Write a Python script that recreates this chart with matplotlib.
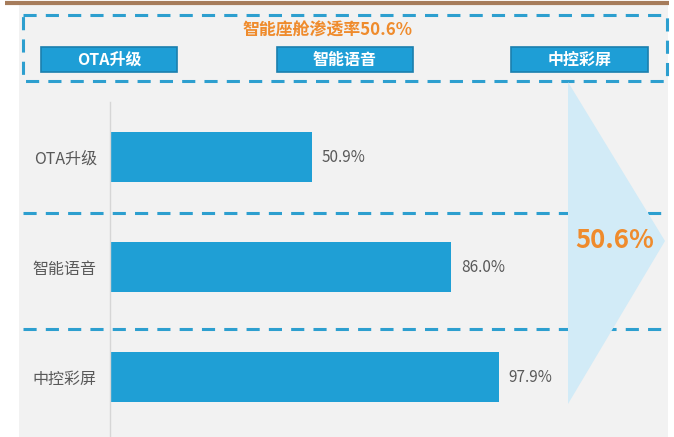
import matplotlib
matplotlib.use('Agg')
import matplotlib.pyplot as plt
from matplotlib.patches import Rectangle, Polygon

plt.rcParams['font.family'] = ['Noto Sans CJK SC', 'DejaVu Sans']

# penetration rate per feature (%)
features = ['OTA升级', '智能语音', '中控彩屏']
rates = [50.9, 86.0, 97.9]
overall_rate = 50.6
headline = '智能座舱渗透率'

W, H = 674, 437
bar_blue = '#1f9fd5'
dash_blue = '#2d9fcf'
orange = '#ef8b2c'
text_gray = '#595959'
dash_style = (0, (4.3, 3))

fig = plt.figure(figsize=(W / 100, H / 100), dpi=100)
fig.patch.set_facecolor('white')

# background layer in pixel units (y down)
bg = fig.add_axes([0, 0, 1, 1])
bg.set_xlim(0, W)
bg.set_ylim(H, 0)
bg.axis('off')

bg.add_patch(Rectangle((19, 5), 649, H - 5, facecolor='#f2f2f2', edgecolor='none', zorder=0))
bg.plot([5, 669], [3, 3], color='#a67c5b', lw=3, solid_capstyle='butt', zorder=1)

# top summary box
bg.add_patch(Rectangle((23, 15), 644, 66, facecolor='none', edgecolor=dash_blue,
                       lw=2.2, linestyle=dash_style, zorder=2))
bg.text(327, 31, f'{headline}{overall_rate}%', color=orange, fontsize=12.2,
        fontweight='bold', ha='center', va='center', zorder=3)
for (x0, x1), name in zip([(41, 177), (277, 413), (511, 648)], features):
    bg.add_patch(Rectangle((x0, 47), x1 - x0, 25, facecolor='#1e9ed6',
                           edgecolor='#1b7fae', lw=1.2, zorder=3))
    bg.text((x0 + x1) / 2, 59.5, name, color='white', fontsize=11.5, fontweight='bold',
            ha='center', va='center', zorder=4)

# separators between bar rows
for y in (213, 329):
    bg.plot([23, 667], [y, y], color=dash_blue, lw=2.2, linestyle=dash_style, zorder=2)

# arrow with the overall rate
bg.add_patch(Polygon([(568, 82), (665, 241), (568, 404)], closed=True,
                     facecolor='#d2ebf7', edgecolor='none', zorder=3))
bg.text(615, 241, f'{overall_rate}%', color=orange, fontsize=18.5, fontweight='bold',
        ha='center', va='center', zorder=4)

# bar chart
ax = fig.add_axes([110 / W, 0, (507 - 110) / W, (H - 102) / H])
ax.patch.set_alpha(0)
ypos = list(range(len(features)))
ax.barh(ypos, rates, height=0.455, color=bar_blue)
ax.set_xlim(0, 100)
ax.set_ylim(2.545, -0.5)
ax.set_yticks(ypos, features)
ax.tick_params(axis='y', length=0, pad=9.5, labelsize=11.5, labelcolor=text_gray)
ax.set_xticks([])
for side in ('top', 'right', 'bottom'):
    ax.spines[side].set_visible(False)
ax.spines['left'].set_color('#d6d6d6')
ax.spines['left'].set_linewidth(1)

for y, v in zip(ypos, rates):
    ax.annotate(f'{v:.1f}%', (v, y), xytext=(7, 0), textcoords='offset points',
                ha='left', va='center', fontsize=11, color=text_gray)

fig.savefig('out.png', dpi=100)
